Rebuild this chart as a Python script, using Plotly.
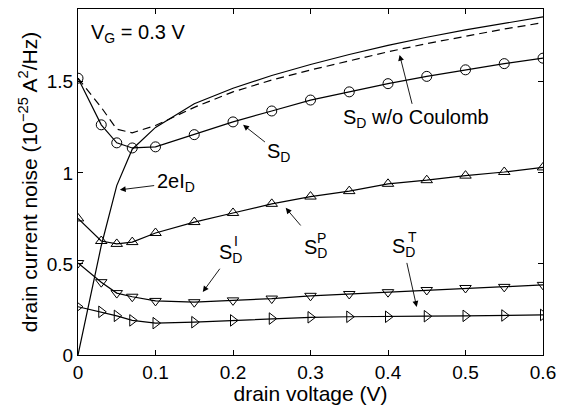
import plotly.graph_objects as go

vd = [0, 0.03, 0.05, 0.07, 0.1, 0.15, 0.2, 0.25, 0.3, 0.35, 0.4, 0.45, 0.5, 0.55, 0.6]
s_d = [1.52, 1.264, 1.165, 1.137, 1.143, 1.21, 1.28, 1.34, 1.40, 1.445, 1.49, 1.53, 1.566, 1.60, 1.63]
s_d_nocoul = [1.52, 1.36, 1.24, 1.22, 1.26, 1.36, 1.445, 1.51, 1.565, 1.615, 1.665, 1.71, 1.75, 1.79, 1.825]
two_e_id = [0, 0.6, 0.93, 1.13, 1.25, 1.38, 1.465, 1.535, 1.595, 1.65, 1.70, 1.745, 1.785, 1.82, 1.857]
s_d_p = [0.75, 0.626, 0.61, 0.62, 0.67, 0.73, 0.78, 0.83, 0.87, 0.90, 0.94, 0.96, 0.985, 1.005, 1.03]
s_d_i = [0.505, 0.40, 0.34, 0.32, 0.297, 0.29, 0.30, 0.31, 0.325, 0.335, 0.345, 0.357, 0.368, 0.374, 0.385]
s_d_t = [0.265, 0.237, 0.215, 0.19, 0.175, 0.18, 0.19, 0.20, 0.207, 0.21, 0.21, 0.213, 0.215, 0.217, 0.22]

x_ticks = [0, 0.1, 0.2, 0.3, 0.4, 0.5, 0.6]
x_ticklabels = ["0", "0.1", "0.2", "0.3", "0.4", "0.5", "0.6"]
y_ticks = [0, 0.5, 1, 1.5]
y_ticklabels = ["0", "0.5", "1", "1.5"]

FONT = "Liberation Sans, Arial, Helvetica, sans-serif"
K = "black"

fig = go.Figure()
fig.add_trace(go.Scatter(x=vd, y=two_e_id, mode="lines", line=dict(color=K, width=1.2)))
fig.add_trace(go.Scatter(x=vd, y=s_d_nocoul, mode="lines", line=dict(color=K, width=1.2, dash="8px,5px")))
marker_common = dict(color=K, size=10, line=dict(color=K, width=1))
fig.add_trace(go.Scatter(x=vd, y=s_d, mode="lines+markers", line=dict(color=K, width=1.2),
                         marker=dict(symbol="circle-open", **marker_common)))
fig.add_trace(go.Scatter(x=vd, y=s_d_p, mode="lines+markers", line=dict(color=K, width=1.2),
                         marker=dict(symbol="triangle-up-open", **marker_common)))
fig.add_trace(go.Scatter(x=vd, y=s_d_i, mode="lines+markers", line=dict(color=K, width=1.2),
                         marker=dict(symbol="triangle-down-open", **marker_common)))
fig.add_trace(go.Scatter(x=vd, y=s_d_t, mode="lines+markers", line=dict(color=K, width=1.2),
                         marker=dict(symbol="triangle-right-open", **marker_common)))

ARROW = dict(arrowhead=2, arrowsize=1.3, arrowwidth=0.9, arrowcolor=K)

def label(x, y, text, size=20):
    fig.add_annotation(x=x, y=y, xref="x", yref="y", text=text, showarrow=False,
                       xanchor="left", yanchor="middle", font=dict(family=FONT, size=size, color=K))

def text_arrow(tx, ty, hx, hy, text, size=20):
    # text centred at (tx, ty); arrow from the text box towards the head (hx, hy)
    fig.add_annotation(x=hx, y=hy, ax=tx, ay=ty, xref="x", yref="y", axref="x", ayref="y",
                       text=text, showarrow=True, standoff=0, startstandoff=1,
                       font=dict(family=FONT, size=size, color=K), **ARROW)

def arrow(x0, y0, x1, y1):
    fig.add_annotation(x=x1, y=y1, ax=x0, ay=y0, xref="x", yref="y", axref="x", ayref="y",
                       text="", showarrow=True, standoff=0, startstandoff=0, **ARROW)

label(0.014, 1.766, "V<sub>G</sub> = 0.3 V")
text_arrow(0.436, 1.297, 0.415, 1.648, "S<sub>D</sub> w/o Coulomb")
text_arrow(0.259, 1.11, 0.213, 1.264, "S<sub>D</sub>")
text_arrow(0.126, 0.945, 0.054, 0.907, "2eI<sub>D</sub>")
label(0.289, 0.583, "S<sub>D</sub>")
label(0.306, 0.643, "P", size=14)
arrow(0.289, 0.703, 0.268, 0.808)
text_arrow(0.420, 0.588, 0.437, 0.264, "S<sub>D</sub>")
label(0.423, 0.648, "T", size=14)
text_arrow(0.197, 0.555, 0.161, 0.346, "S<sub>D</sub>")
label(0.199, 0.626, "I", size=14)

axis_common = dict(showline=True, linecolor=K, linewidth=1, mirror="ticks", ticks="inside",
                   ticklen=5, tickcolor=K, tickwidth=1, showgrid=False, zeroline=False,
                   tickfont=dict(family=FONT, size=19, color=K))
fig.update_xaxes(range=[0, 0.6], tickvals=x_ticks, ticktext=x_ticklabels,
                 title=dict(text="drain voltage (V)", font=dict(family=FONT, size=21, color=K), standoff=3),
                 **axis_common)
fig.update_yaxes(range=[0, 1.9], tickvals=y_ticks, ticktext=y_ticklabels,
                 title=dict(text="drain current noise (10<sup>−25</sup> A<sup>2</sup>/Hz)",
                            font=dict(family=FONT, size=21, color=K), standoff=3),
                 **axis_common)
fig.update_layout(width=567, height=405, showlegend=False, plot_bgcolor="white", paper_bgcolor="white",
                  margin=dict(l=78, r=24, t=9, b=50, autoexpand=False), font=dict(family=FONT))
fig.write_html("out.html", config={"displayModeBar": False},
               post_script="document.body.style.margin='0';document.body.style.overflow='hidden';")
